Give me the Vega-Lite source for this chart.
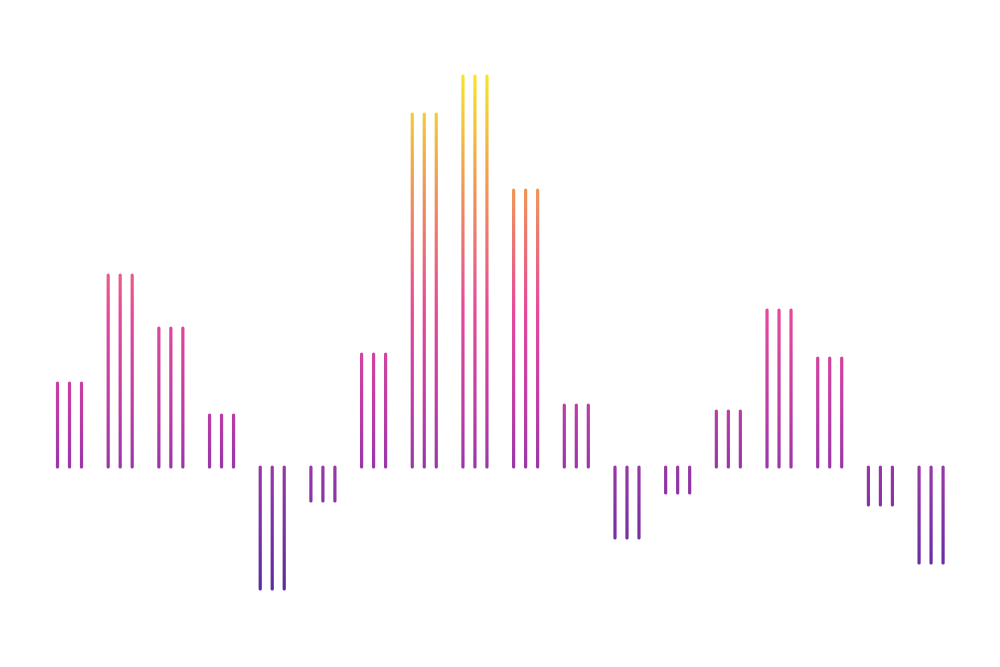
{
  "$schema": "https://vega.github.io/schema/vega-lite/v6.json",
  "width": 1000,
  "height": 667,
  "autosize": {"type": "fit", "contains": "padding"},
  "padding": 0,
  "background": "white",
  "config": {"view": {"stroke": null}},
  "data": {
    "values": [
      {"g": 1, "v": 84, "zero": 0, "none": null},
      {"g": 2, "v": 192, "zero": 0, "none": null},
      {"g": 3, "v": 139, "zero": 0, "none": null},
      {"g": 4, "v": 52, "zero": 0, "none": null},
      {"g": 5, "v": -122, "zero": 0, "none": null},
      {"g": 6, "v": -34, "zero": 0, "none": null},
      {"g": 7, "v": 113, "zero": 0, "none": null},
      {"g": 8, "v": 353, "zero": 0, "none": null},
      {"g": 9, "v": 391, "zero": 0, "none": null},
      {"g": 10, "v": 277, "zero": 0, "none": null},
      {"g": 11, "v": 62, "zero": 0, "none": null},
      {"g": 12, "v": -71, "zero": 0, "none": null},
      {"g": 13, "v": -26, "zero": 0, "none": null},
      {"g": 14, "v": 56, "zero": 0, "none": null},
      {"g": 15, "v": 157, "zero": 0, "none": null},
      {"g": 16, "v": 109, "zero": 0, "none": null},
      {"g": 17, "v": -38, "zero": 0, "none": null},
      {"g": 18, "v": -96, "zero": 0, "none": null}
    ]
  },
  "transform": [{"fold": ["zero", "v", "none"]}],
  "encoding": {
    "x": {"field": "g", "type": "quantitative", "scale": {"domain": [-0.3713, 19.36], "nice": false, "zero": false}, "axis": null},
    "y": {"field": "value", "type": "quantitative", "scale": {"domain": [-200, 467], "nice": false, "zero": false}, "axis": null},
    "order": [{"field": "g", "type": "quantitative"}, {"field": "key", "type": "ordinal"}]
  },
  "layer": [
    {"mark": {"type": "line", "xOffset": -12, "strokeWidth": 3.2, "strokeCap": "round", "invalid": "break-paths-filter-domains",
      "stroke": {"gradient": "linear", "x1": 0, "y1": 1, "x2": 0, "y2": 0, "stops": [
        {"offset": 0, "color": "#5a2ca0"}, {"offset": 0.239, "color": "#9a36a8"}, {"offset": 0.33, "color": "#b83ba6"},
        {"offset": 0.544, "color": "#e6489a"}, {"offset": 0.757, "color": "#ee8f5c"}, {"offset": 1, "color": "#f8e426"}]}}},
    {"mark": {"type": "line", "xOffset": 0, "strokeWidth": 3.2, "strokeCap": "round", "invalid": "break-paths-filter-domains",
      "stroke": {"gradient": "linear", "x1": 0, "y1": 1, "x2": 0, "y2": 0, "stops": [
        {"offset": 0, "color": "#5a2ca0"}, {"offset": 0.239, "color": "#9a36a8"}, {"offset": 0.33, "color": "#b83ba6"},
        {"offset": 0.544, "color": "#e6489a"}, {"offset": 0.757, "color": "#ee8f5c"}, {"offset": 1, "color": "#f8e426"}]}}},
    {"mark": {"type": "line", "xOffset": 12, "strokeWidth": 3.2, "strokeCap": "round", "invalid": "break-paths-filter-domains",
      "stroke": {"gradient": "linear", "x1": 0, "y1": 1, "x2": 0, "y2": 0, "stops": [
        {"offset": 0, "color": "#5a2ca0"}, {"offset": 0.239, "color": "#9a36a8"}, {"offset": 0.33, "color": "#b83ba6"},
        {"offset": 0.544, "color": "#e6489a"}, {"offset": 0.757, "color": "#ee8f5c"}, {"offset": 1, "color": "#f8e426"}]}}}
  ]
}
